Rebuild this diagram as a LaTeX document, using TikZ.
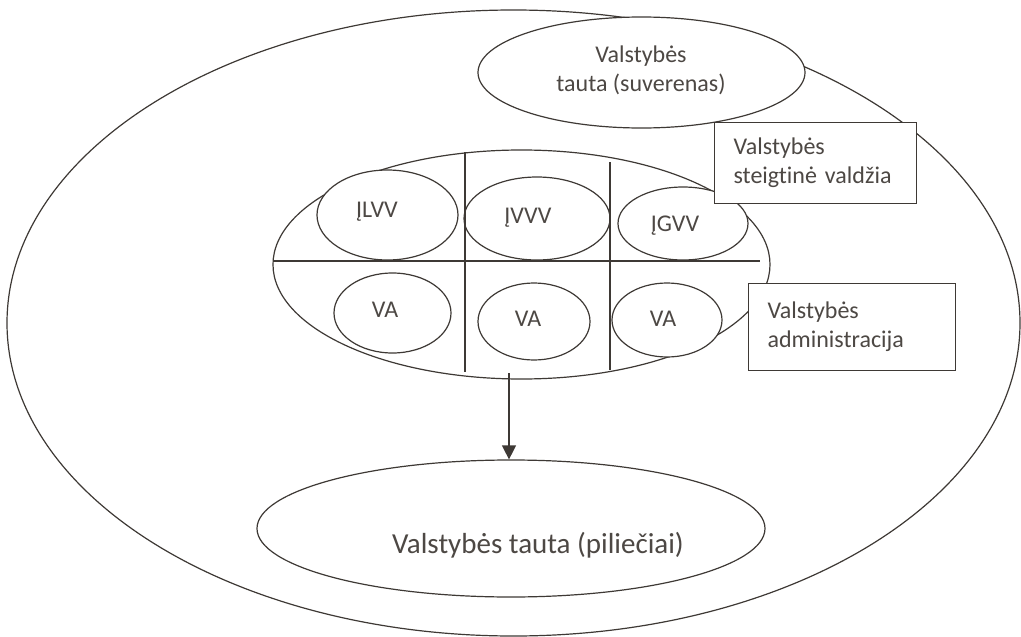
\documentclass[tikz,border=0pt]{standalone}
\usepackage{fontspec}
\setmainfont{Carlito}[Ligatures={NoCommon}]
\usetikzlibrary{shapes.geometric,arrows.meta}
\definecolor{linecol}{RGB}{62,57,53}
\definecolor{txtcol}{RGB}{77,72,68}
\begin{document}
\begin{tikzpicture}[x=1pt,y=-1pt,
  oval/.style={ellipse, draw=linecol, line width=1.2pt, fill=white, inner sep=0pt},
  lbl/.style={text=txtcol, font=\fontsize{24}{29}\selectfont, inner sep=0pt},
  bigl/.style={text=txtcol, font=\fontsize{29}{35}\selectfont, inner sep=0pt},
  infobox/.style={rectangle, draw=linecol, line width=1.2pt, fill=white, align=left,
    text=txtcol, font=\fontsize{24}{29}\selectfont, inner xsep=19pt, inner ysep=0pt, anchor=north west},
  divider/.style={draw=linecol, line width=1.2pt}]
\useasboundingbox (0,0) rectangle (1021,637);
% outer ellipse
\node[oval, minimum width=1013pt, minimum height=626pt] (big) at (513.5,323) {};
% sovereign
\node[oval, minimum width=327pt, minimum height=111pt] (top) at (641.5,72.5) {};
\node[lbl, align=center] (toptext) at (641,70.5) {Valstybės\\tauta (suverenas)};
% middle
\node[oval, minimum width=497pt, minimum height=229pt] (mid) at (521.5,264.5) {};
\node[oval, minimum width=141pt, minimum height=90pt] (e1) at (387.5,215) {};
\node[oval, minimum width=146pt, minimum height=83pt] (e2) at (537,218.5) {};
\node[oval, minimum width=130pt, minimum height=73pt] (e3) at (683,223.5) {};
\node[oval, minimum width=117pt, minimum height=80pt] (v1) at (392.5,313) {};
\node[oval, minimum width=112pt, minimum height=77pt] (v2) at (534,321.5) {};
\node[oval, minimum width=110pt, minimum height=74pt] (v3) at (667,320) {};
\draw[divider] (273,261) -- (760,261);
\draw[divider] (465,152) -- (465,372);
\draw[divider] (610,162) -- (610,370);
\node[lbl, anchor=base] (t1) at (377,217) {ĮLVV};
\node[lbl, anchor=base] (t2) at (528,223) {ĮVVV};
\node[lbl, anchor=base] (t3) at (675,231) {ĮGVV};
\node[lbl, anchor=base] (t4) at (385,317) {VA};
\node[lbl, anchor=base] (t5) at (528,326) {VA};
\node[lbl, anchor=base] (t6) at (663,326) {VA};
% boxes
\node[infobox, minimum width=202pt, minimum height=81pt, text width=164pt] (box1) at (714,122) {Valstybės\\steigtinė valdžia};
\node[infobox, minimum width=207pt, minimum height=87pt, text width=169pt] (box2) at (748,283) {Valstybės\\administracija};
% citizens
\node[oval, minimum width=508pt, minimum height=137pt] (bot) at (511,528.5) {};
\node[bigl, anchor=base] (bottext) at (538,553) {Valstybės tauta (piliečiai)};
% arrow
\coordinate (astart) at (509,373);
\draw[draw=linecol, line width=1.2pt, -{Triangle[length=14pt,width=14pt]}] (astart) -- (astart |- bot.north);
\end{tikzpicture}
\end{document}
